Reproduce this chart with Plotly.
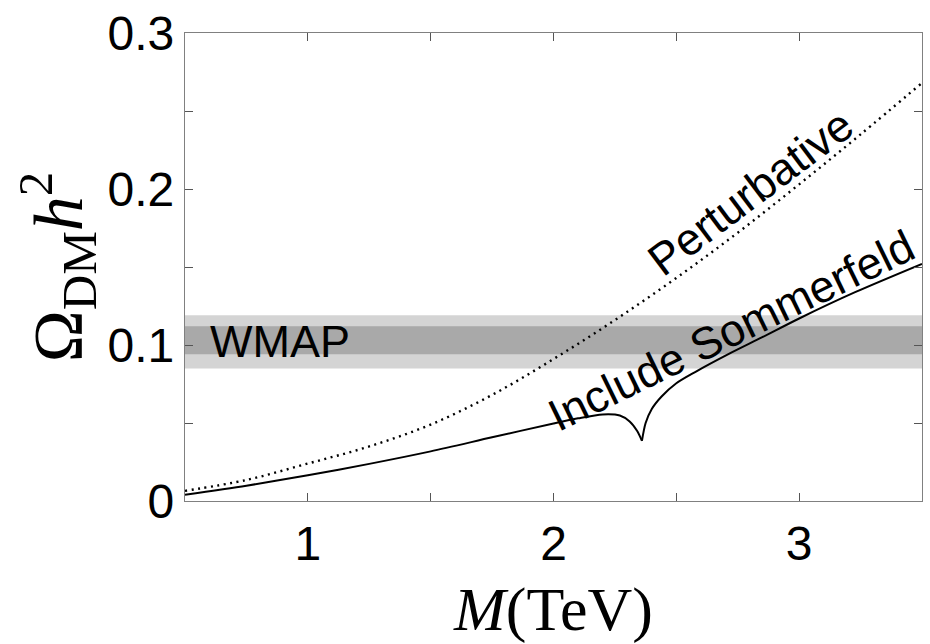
import plotly.graph_objects as go

# Data
mass_pert = [0.5, 0.75, 1.0, 1.25, 1.5, 1.75, 2.0, 2.25, 2.5, 2.75, 3.0, 3.25, 3.5]
omega_pert = [0.0065, 0.0135, 0.024, 0.035, 0.049, 0.068, 0.091, 0.116, 0.143, 0.172, 0.203, 0.235, 0.268]

# "Include Sommerfeld": branch below the resonance dip, and branch above it
mass_som_low = [0.5, 0.75, 1.0, 1.25, 1.5, 1.75, 2.0, 2.1, 2.2, 2.27, 2.31, 2.34, 2.36]
omega_som_low = [0.004, 0.0098, 0.0165, 0.0238, 0.0318, 0.0408, 0.0497, 0.053, 0.0555, 0.0548, 0.051, 0.045, 0.0386]
mass_som_high = [2.36, 2.375, 2.40, 2.44, 2.50, 2.58, 2.71, 2.85, 3.0, 3.23, 3.5]
omega_som_high = [0.0386, 0.050, 0.059, 0.067, 0.0755, 0.083, 0.094, 0.105, 0.117, 0.134, 0.152]

wmap_outer = [0.085, 0.119]
wmap_inner = [0.094, 0.112]

x_ticks = [0.5, 1.0, 1.5, 2.0, 2.5, 3.0, 3.5]
x_ticktext = ["", "1", "", "2", "", "3", ""]
y_ticks = [0.0, 0.05, 0.1, 0.15, 0.2, 0.25, 0.3]
y_ticktext = ["0", "", "0.1", "", "0.2", "", "0.3"]

fig = go.Figure()

fig.add_shape(type="rect", xref="paper", x0=0, x1=1, yref="y", y0=wmap_outer[0], y1=wmap_outer[1],
              fillcolor="#d4d4d4", line_width=0, layer="below")
fig.add_shape(type="rect", xref="paper", x0=0, x1=1, yref="y", y0=wmap_inner[0], y1=wmap_inner[1],
              fillcolor="#a9a9a9", line_width=0, layer="below")

fig.add_trace(go.Scatter(x=mass_pert, y=omega_pert, mode="lines",
                         line=dict(color="black", width=2.4, dash="2px,4.5px", shape="spline", smoothing=1),
                         showlegend=False, hoverinfo="skip"))
for mx, oy in [(mass_som_low, omega_som_low), (mass_som_high, omega_som_high)]:
    fig.add_trace(go.Scatter(x=mx, y=oy, mode="lines",
                             line=dict(color="black", width=2, shape="spline", smoothing=0.8),
                             showlegend=False, hoverinfo="skip"))

txtfont = dict(family="Liberation Sans, Arial, Helvetica, sans-serif", size=45, color="black")
fig.add_annotation(x=0.886, y=0.102, text="WMAP", showarrow=False, font=txtfont)
fig.add_annotation(x=2.80, y=0.198, text="Perturbative", showarrow=False, font=txtfont, textangle=-37)
fig.add_annotation(x=2.724, y=0.1095, text="Include Sommerfeld", showarrow=False, font=txtfont, textangle=-26)

axis_common = dict(showline=True, linecolor="#808080", linewidth=1.3, mirror="ticks",
                   ticks="inside", ticklen=8, tickwidth=1.2, tickcolor="#555555",
                   showgrid=False, zeroline=False,
                   tickfont=dict(family="Liberation Sans, Arial, Helvetica, sans-serif", size=48, color="black"))

fig.update_xaxes(range=[0.5, 3.5], tickmode="array", tickvals=x_ticks, ticktext=x_ticktext,
                 title=dict(text="<i>M</i>(TeV)", standoff=20,
                            font=dict(family="Liberation Serif, DejaVu Serif, serif", size=62, color="black")),
                 **axis_common)
fig.update_yaxes(range=[0, 0.3], tickmode="array", tickvals=y_ticks, ticktext=y_ticktext,
                 title=dict(text="Ω<sub>DM</sub><i>h</i><sup>2</sup>", standoff=2,
                            font=dict(family="Liberation Serif, DejaVu Serif, serif", size=70, color="black")),
                 **axis_common)

fig.update_layout(width=930, height=644, margin=dict(l=185, r=7, t=27, b=143),
                  plot_bgcolor="white", paper_bgcolor="white")

fig.write_html("out.html")
